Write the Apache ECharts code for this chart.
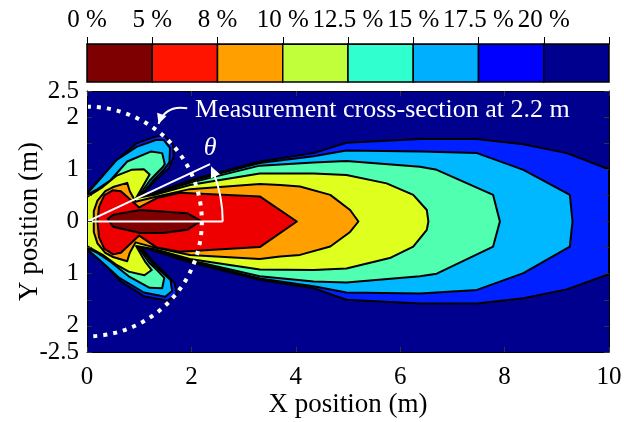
<!DOCTYPE html>
<html>
<head>
<meta charset="utf-8">
<script src="https://cdn.jsdelivr.net/npm/echarts@6/dist/echarts.min.js"></script>
<style>
  html, body { margin: 0; padding: 0; background: #ffffff; }
  #chart { width: 624px; height: 422px; }
</style>
</head>
<body>
<div id="chart"></div>
<script>
// ---- colour scale ----------------------------------------------------------
const levelLabels = ['0 %', '5 %', '8 %', '10 %', '12.5 %', '15 %', '17.5 %', '20 %'];
const barColors  = ['#7f0000', '#ff1400', '#ffa000', '#c0ff3a', '#30ffd0', '#00b0ff', '#0000ff', '#00008f'];
// fill colours of the contour bands, lowest band first
const fillColors = ['#800000', '#ee0000', '#ffa000', '#dfff1f', '#50ffb0', '#00b8ff', '#0020ff', '#00008f'];

// ---- y tick labels ---------------------------------------------------------
const yTickValues = [-2.5, -2, -1, 0, 1, 2, 2.5];
const yTickText   = ['-2.5', '2', '1', '0', '1', '2', '2.5'];

// ---- contour regions: area where the value is below each level, [x, y] in metres
const region20 = [[0,0.55],[0.29,0.86],[0.65,1.24],[0.95,1.5],[1.32,1.63],[1.47,1.65],[1.65,1.47],[1.66,1.24],[1.57,1.02],[1.3,0.78],[1.0,0.45],[1.3,0.55],[1.97,0.79],[3.31,1.15],[4.34,1.31],[4.97,1.51],[6.38,1.58],[7.47,1.58],[8.36,1.48],[9.19,1.31],[10,1.0],[10,-1.01],[9.19,-1.3],[8.36,-1.47],[7.47,-1.57],[6.38,-1.57],[4.97,-1.5],[4.34,-1.28],[3.31,-1.12],[1.97,-0.78],[1.3,-0.57],[1.0,-0.46],[1.28,-0.78],[1.53,-1.02],[1.68,-1.18],[1.72,-1.4],[1.54,-1.52],[1.09,-1.43],[0.65,-1.15],[0.26,-0.74],[0,-0.55]];
const region17_5 = [[0,0.53],[0.22,0.78],[0.57,1.18],[0.95,1.43],[1.32,1.56],[1.47,1.56],[1.59,1.41],[1.58,1.14],[1.47,0.99],[1.26,0.78],[0.98,0.44],[1.3,0.54],[1.97,0.77],[3.31,1.12],[4.34,1.25],[4.97,1.36],[6.38,1.34],[7.47,1.31],[8.36,0.99],[9.25,0.51],[9.3,0.0],[9.25,-0.48],[8.36,-0.99],[7.47,-1.31],[6.38,-1.38],[4.97,-1.36],[4.34,-1.24],[3.31,-1.09],[1.97,-0.76],[1.3,-0.56],[0.98,-0.45],[1.24,-0.79],[1.47,-1.0],[1.6,-1.12],[1.63,-1.33],[1.5,-1.44],[1.09,-1.36],[0.62,-1.08],[0.22,-0.72],[0,-0.53]];
const region15 = [[0,0.51],[0.2,0.62],[0.45,0.79],[0.77,1.15],[1.22,1.34],[1.44,1.31],[1.49,1.1],[1.45,1.04],[1.34,0.93],[1.2,0.78],[0.96,0.45],[1.3,0.53],[1.97,0.74],[3.31,1.07],[4.34,1.13],[4.97,1.16],[6.38,1.05],[6.7,0.99],[7.78,0.51],[7.91,0.0],[7.78,-0.48],[6.7,-1.0],[6.38,-1.05],[4.97,-1.17],[4.34,-1.15],[3.31,-1.05],[1.97,-0.74],[1.3,-0.55],[0.96,-0.46],[1.19,-0.79],[1.36,-0.95],[1.48,-1.08],[1.44,-1.28],[1.2,-1.27],[0.8,-1.05],[0.45,-0.77],[0.2,-0.6],[0,-0.51]];
const region12_5 = [[0,0.47],[0.3,0.66],[0.57,0.88],[0.85,0.99],[1.09,1.0],[1.2,0.9],[1.12,0.76],[0.94,0.45],[1.3,0.51],[1.97,0.7],[3.31,0.92],[4.34,0.92],[4.97,0.89],[5.74,0.73],[6.25,0.51],[6.51,0.22],[6.54,0.0],[6.51,-0.16],[6.25,-0.48],[5.8,-0.7],[4.97,-0.9],[4.34,-0.93],[3.31,-0.92],[1.97,-0.72],[1.3,-0.53],[0.94,-0.47],[1.12,-0.78],[1.24,-0.93],[1.1,-1.03],[0.8,-0.96],[0.55,-0.82],[0.3,-0.64],[0,-0.47]];
const region10 = [[0.13,0.2],[0.2,0.4],[0.35,0.58],[0.5,0.66],[0.77,0.74],[0.82,0.58],[0.93,0.38],[1.3,0.47],[1.97,0.62],[3.31,0.72],[3.7,0.7],[4.08,0.67],[4.66,0.51],[5.04,0.22],[5.2,0.0],[5.04,-0.2],[4.66,-0.48],[4.08,-0.64],[3.7,-0.67],[3.31,-0.72],[1.97,-0.64],[1.3,-0.5],[0.93,-0.4],[0.82,-0.6],[0.77,-0.76],[0.5,-0.68],[0.35,-0.6],[0.2,-0.42],[0.13,-0.2]];
const region8 = [[0.2,0.0],[0.23,0.28],[0.33,0.5],[0.5,0.6],[0.65,0.58],[1.0,0.27],[1.34,0.45],[1.78,0.55],[3.31,0.48],[4.02,0.0],[3.31,-0.49],[1.78,-0.58],[1.34,-0.5],[1.0,-0.27],[0.65,-0.6],[0.5,-0.63],[0.33,-0.52],[0.23,-0.3]];
const region5 = [[0.4,0.05],[0.5,0.13],[1.02,0.22],[1.92,0.16],[2.18,0.01],[1.92,-0.16],[1.46,-0.22],[1.02,-0.22],[0.5,-0.1]];

// outermost first so that each lower band is painted on top
const regions = [
  { pts: region20,   color: fillColors[6] },
  { pts: region17_5, color: fillColors[5] },
  { pts: region15,   color: fillColors[4] },
  { pts: region12_5, color: fillColors[3] },
  { pts: region10,   color: fillColors[2] },
  { pts: region8,    color: fillColors[1] },
  { pts: region5,    color: fillColors[0] }
];

// ---- annotation geometry (metres / degrees) --------------------------------
const circleRadius = 2.2;     // measurement cross-section
const thetaRadius  = 2.6;     // length of the angle legs
const thetaDeg     = 25;      // direction of the tilted leg
const thetaArcDeg  = 24;      // arrow tip of the angle arc
const thetaLabelPos = [2.36, 1.41];
const noteText = 'Measurement cross-section at 2.2 m';
const notePos = [2.07, 2.14];
const noteArrow = { from: [1.92, 2.17], ctrl: [1.5, 2.24], to: [1.37, 1.87] };

const serif = '"Liberation Serif", "Times New Roman", serif';
const tickFont = 25;

function arrowHead(tip, dir, len, half) {
  const n = Math.hypot(dir[0], dir[1]);
  const ux = dir[0] / n, uy = dir[1] / n;
  const bx = tip[0] - ux * len, by = tip[1] - uy * len;
  return [[tip[0], tip[1]], [bx - uy * half, by + ux * half], [bx + uy * half, by - ux * half]];
}

function renderContour(params, api) {
  const r = regions[params.dataIndex];
  return {
    type: 'polygon',
    shape: { points: r.pts.map(p => api.coord(p)) },
    style: { fill: r.color, stroke: '#000', lineWidth: 2, lineJoin: 'round' }
  };
}

function renderNotes(params, api) {
  const o = api.coord([0, 0]);
  const ppm = api.size([1, 0])[0];
  const white = '#ffffff';
  const kids = [];
  // dotted measurement circle
  kids.push({ type: 'arc',
    shape: { cx: o[0], cy: o[1], r: circleRadius * ppm, startAngle: -Math.PI / 2, endAngle: Math.PI / 2, clockwise: true },
    style: { stroke: white, fill: null, lineWidth: 4, lineDash: [4, 6], lineCap: 'butt' } });
  // angle legs
  const t = thetaDeg * Math.PI / 180;
  kids.push({ type: 'line', shape: { x1: o[0], y1: o[1], x2: api.coord([thetaRadius, 0])[0], y2: o[1] },
    style: { stroke: white, lineWidth: 2 } });
  const e = api.coord([thetaRadius * Math.cos(t), thetaRadius * Math.sin(t)]);
  kids.push({ type: 'line', shape: { x1: o[0], y1: o[1], x2: e[0], y2: e[1] },
    style: { stroke: white, lineWidth: 2 } });
  // angle arc with arrow
  const rr = thetaRadius * ppm;
  const a = thetaArcDeg * Math.PI / 180;
  kids.push({ type: 'arc', shape: { cx: o[0], cy: o[1], r: rr, startAngle: 0, endAngle: -(a - 0.05), clockwise: false },
    style: { stroke: white, fill: null, lineWidth: 2 } });
  const tip = [o[0] + rr * Math.cos(a), o[1] - rr * Math.sin(a)];
  kids.push({ type: 'polygon', shape: { points: arrowHead(tip, [-Math.sin(a), -Math.cos(a)], 11, 5) },
    style: { fill: white } });
  const lp = api.coord(thetaLabelPos);
  kids.push({ type: 'text', style: { text: 'θ', x: lp[0], y: lp[1], fill: white,
    font: 'italic 26px ' + serif, align: 'center', verticalAlign: 'middle' } });
  // note and its curved arrow
  const np = api.coord(notePos);
  kids.push({ type: 'text', style: { text: noteText, x: np[0], y: np[1], fill: white,
    font: '26px ' + serif, align: 'left', verticalAlign: 'middle' } });
  const f = api.coord(noteArrow.from), c = api.coord(noteArrow.ctrl), g = api.coord(noteArrow.to);
  kids.push({ type: 'bezierCurve', shape: { x1: f[0], y1: f[1], cpx1: c[0], cpy1: c[1], x2: g[0], y2: g[1] },
    style: { stroke: white, fill: null, lineWidth: 2 } });
  kids.push({ type: 'polygon', shape: { points: arrowHead(g, [g[0] - c[0], g[1] - c[1]], 10, 5) },
    style: { fill: white } });
  return { type: 'group', children: kids };
}

function renderSwatch(params, api) {
  const i = params.dataIndex;
  const p0 = api.coord([i, 1]);
  const p1 = api.coord([i + 1, 0]);
  return { type: 'rect', shape: { x: p0[0], y: p0[1], width: p1[0] - p0[0], height: p1[1] - p0[1] },
    style: { fill: barColors[i], stroke: '#000', lineWidth: 1.5 } };
}

const axisLineStyle = { color: '#000', width: 1 };
const chart = echarts.init(document.getElementById('chart'));
chart.setOption({
  animation: false,
  backgroundColor: '#ffffff',
  grid: [
    { left: 87, top: 91, width: 522, height: 261, show: true, backgroundColor: fillColors[7], borderWidth: 0,
      containLabel: false, outerBoundsMode: 'none' },
    { left: 87, top: 44, width: 522, height: 38, containLabel: false, outerBoundsMode: 'none' }
  ],
  xAxis: [
    { gridIndex: 0, type: 'value', position: 'bottom', min: 0, max: 10, interval: 2, z: 10,
      axisLine: { show: true, onZero: false, lineStyle: axisLineStyle },
      axisTick: { show: true, inside: true, length: 5, lineStyle: { color: '#333' } },
      axisLabel: { fontFamily: serif, fontSize: tickFont, color: '#000', margin: 13 },
      splitLine: { show: false },
      name: 'X position (m)', nameLocation: 'middle', nameGap: 39, nameMoveOverlap: false,
      nameTextStyle: { fontFamily: serif, fontSize: 27, color: '#000' } },
    { gridIndex: 0, type: 'value', position: 'top', min: 0, max: 10, interval: 2, z: 10,
      axisLine: { show: true, onZero: false, lineStyle: axisLineStyle },
      axisTick: { show: true, inside: true, length: 5, lineStyle: { color: '#333' } },
      axisLabel: { show: false }, splitLine: { show: false } },
    { gridIndex: 1, type: 'value', position: 'top', min: 0, max: 8, interval: 1, z: 10,
      axisLine: { show: true, onZero: false, lineStyle: axisLineStyle },
      axisTick: { show: true, inside: false, length: 7, lineStyle: { color: '#000' } },
      axisLabel: { fontFamily: serif, fontSize: 25, color: '#000', margin: 11,
        formatter: v => levelLabels[Math.round(v)] || '' },
      splitLine: { show: false } }
  ],
  yAxis: [
    { gridIndex: 0, type: 'value', position: 'left', min: -2.5, max: 2.5, interval: 0.5, z: 10,
      axisLine: { show: true, onZero: false, lineStyle: axisLineStyle },
      axisTick: { show: true, inside: true, length: 5, lineStyle: { color: '#333' } },
      axisLabel: { fontFamily: serif, fontSize: tickFont, color: '#000', margin: 8,
        formatter: v => { const k = yTickValues.findIndex(t => Math.abs(t - v) < 1e-6); return k >= 0 ? yTickText[k] : ''; } },
      splitLine: { show: false },
      name: 'Y position (m)', nameLocation: 'middle', nameGap: 44, nameRotate: 90, nameMoveOverlap: false,
      nameTextStyle: { fontFamily: serif, fontSize: 27, color: '#000' } },
    { gridIndex: 0, type: 'value', position: 'right', min: -2.5, max: 2.5, interval: 0.5, z: 10,
      axisLine: { show: true, onZero: false, lineStyle: axisLineStyle },
      axisTick: { show: true, inside: true, length: 5, lineStyle: { color: '#333' } },
      axisLabel: { show: false }, splitLine: { show: false } },
    { gridIndex: 1, type: 'value', min: 0, max: 1, show: false }
  ],
  series: [
    { type: 'custom', xAxisIndex: 0, yAxisIndex: 0, clip: true, silent: true,
      data: regions.map((r, i) => [i, 0]), renderItem: renderContour },
    { type: 'custom', xAxisIndex: 0, yAxisIndex: 0, clip: true, silent: true, z: 3,
      data: [[0, 0]], renderItem: renderNotes },
    { type: 'custom', xAxisIndex: 2, yAxisIndex: 2, silent: true,
      data: barColors.map((c, i) => [i, 0]), renderItem: renderSwatch }
  ]
});
</script>
</body>
</html>
